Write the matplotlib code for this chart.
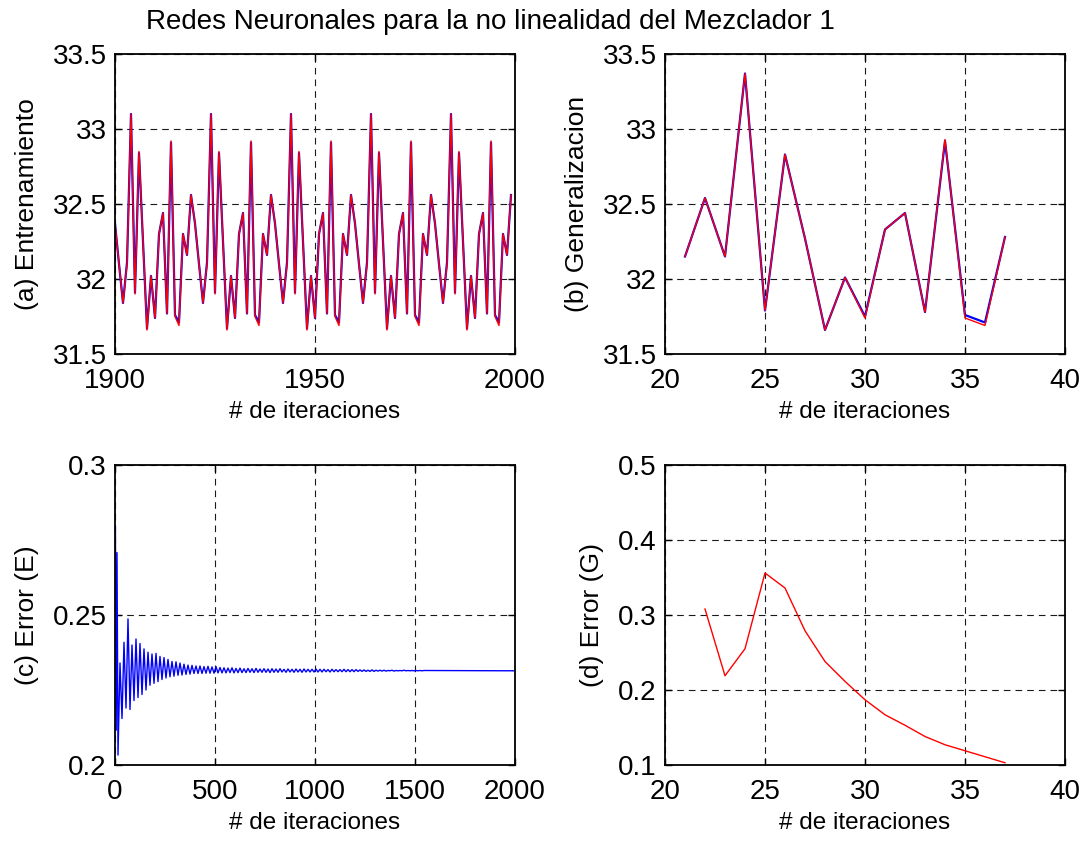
import numpy as np
import matplotlib
matplotlib.use("Agg")
import matplotlib.pyplot as plt

plt.rcParams['font.family'] = ['Liberation Sans', 'DejaVu Sans']

# --- (a) entrenamiento: iteraciones 1900..1999 ---
train_iter = np.arange(1900, 2000)
train_out = [
    32.37, 32.10, 31.84, 32.10, 33.10, 31.90, 32.85, 32.25, 31.66, 32.02,
    31.74, 32.30, 32.44, 31.77, 32.92, 31.75, 31.69, 32.30, 32.16, 32.56,
    32.37, 32.10, 31.84, 32.10, 33.10, 31.90, 32.85, 32.25, 31.66, 32.02,
    31.74, 32.30, 32.44, 31.77, 32.92, 31.75, 31.69, 32.30, 32.16, 32.56,
    32.37, 32.10, 31.84, 32.10, 33.10, 31.90, 32.85, 32.25, 31.66, 32.02,
    31.74, 32.30, 32.44, 31.77, 32.92, 31.75, 31.69, 32.30, 32.16, 32.56,
    32.37, 32.10, 31.84, 32.10, 33.10, 31.90, 32.85, 32.25, 31.66, 32.02,
    31.74, 32.30, 32.44, 31.77, 32.92, 31.75, 31.69, 32.30, 32.16, 32.56,
    32.37, 32.10, 31.84, 32.10, 33.10, 31.90, 32.85, 32.25, 31.66, 32.02,
    31.74, 32.30, 32.44, 31.77, 32.92, 31.75, 31.69, 32.30, 32.16, 32.56,
]
train_target = [
    32.37, 32.10, 31.84, 32.11, 33.10, 31.91, 32.84, 32.25, 31.67, 32.02,
    31.74, 32.30, 32.44, 31.77, 32.91, 31.76, 31.71, 32.30, 32.16, 32.56,
    32.37, 32.10, 31.84, 32.11, 33.10, 31.91, 32.84, 32.25, 31.67, 32.02,
    31.74, 32.30, 32.44, 31.77, 32.91, 31.76, 31.71, 32.30, 32.16, 32.56,
    32.37, 32.10, 31.84, 32.11, 33.10, 31.91, 32.84, 32.25, 31.67, 32.02,
    31.74, 32.30, 32.44, 31.77, 32.91, 31.76, 31.71, 32.30, 32.16, 32.56,
    32.37, 32.10, 31.84, 32.11, 33.10, 31.91, 32.84, 32.25, 31.67, 32.02,
    31.74, 32.30, 32.44, 31.77, 32.91, 31.76, 31.71, 32.30, 32.16, 32.56,
    32.37, 32.10, 31.84, 32.11, 33.10, 31.91, 32.84, 32.25, 31.67, 32.02,
    31.74, 32.30, 32.44, 31.77, 32.91, 31.76, 31.71, 32.30, 32.16, 32.56,
]

# --- (b) generalizacion ---
gen_iter = np.arange(21, 38)
gen_out = [32.15, 32.54, 32.15, 33.37, 31.79, 32.83, 32.27, 31.66, 32.01,
           31.74, 32.33, 32.44, 31.78, 32.93, 31.74, 31.69, 32.28]
gen_target = [32.15, 32.54, 32.15, 33.37, 31.79, 32.83, 32.27, 31.66, 32.01,
              31.75, 32.33, 32.44, 31.78, 32.92, 31.76, 31.71, 32.28]

# --- (c) error de entrenamiento ---
err_iter_first = [2, 6, 10, 15]
err_val_first = [0.2796, 0.2116, 0.2708, 0.2033]
err_iter_grid = np.arange(25, 1550, 10)
err_val_grid = [
    0.2340, 0.2155, 0.2409, 0.2190, 0.2487, 0.2185, 0.2400, 0.2215, 0.2420, 0.2225,
    0.2405, 0.2235, 0.2387, 0.2250, 0.2376, 0.2266, 0.2370, 0.2272, 0.2372, 0.2278,
    0.2362, 0.2285, 0.2358, 0.2290, 0.2352, 0.2294, 0.2345, 0.2296, 0.2344, 0.2299,
    0.2340, 0.2300, 0.2336, 0.2302, 0.2333, 0.2303, 0.2332, 0.2305, 0.2330, 0.2305,
    0.2330, 0.2305, 0.2328, 0.2306, 0.2329, 0.2306, 0.2327, 0.2306, 0.2328, 0.2307,
    0.2325, 0.2307, 0.2324, 0.2307, 0.2323, 0.2308, 0.2324, 0.2307, 0.2322, 0.2308,
    0.2323, 0.2308, 0.2321, 0.2308, 0.2322, 0.2309, 0.2321, 0.2308, 0.2322, 0.2309,
    0.2320, 0.2309, 0.2321, 0.2309, 0.2320, 0.2308, 0.2321, 0.2309, 0.2320, 0.2309,
    0.2321, 0.2310, 0.2319, 0.2309, 0.2320, 0.2310, 0.2319, 0.2309, 0.2320, 0.2310,
    0.2319, 0.2309, 0.2320, 0.2310, 0.2319, 0.2310, 0.2319, 0.2310, 0.2320, 0.2310,
    0.2319, 0.2310, 0.2319, 0.2311, 0.2318, 0.2310, 0.2319, 0.2311, 0.2318, 0.2311,
    0.2318, 0.2311, 0.2319, 0.2311, 0.2318, 0.2311, 0.2318, 0.2311, 0.2318, 0.2312,
    0.2317, 0.2312, 0.2317, 0.2312, 0.2316, 0.2312, 0.2317, 0.2312, 0.2316, 0.2313,
    0.2316, 0.2313, 0.2316, 0.2313, 0.2315, 0.2314, 0.2316, 0.2313, 0.2315, 0.2314,
    0.2315, 0.2314, 0.2316, 0.2314, 0.2315, 0.2314, 0.2315, 0.2314, 0.2315, 0.2314,
    0.2315, 0.2314, 0.2315,
]
err_iter_last = [2000]
err_val_last = [0.2314]

err_iter = list(err_iter_first) + list(err_iter_grid) + err_iter_last
err_val = err_val_first + err_val_grid + err_val_last

# --- (d) error de generalizacion ---
gerr_iter = np.arange(22, 38)
gerr_val = [0.308, 0.219, 0.255, 0.356, 0.336, 0.279, 0.238, 0.2115,
            0.187, 0.167, 0.153, 0.138, 0.127, 0.119, 0.111, 0.103]

W, H = 1086, 842
fig = plt.figure(figsize=(W / 100, H / 100), dpi=100)


def make_axes(left, top, right, bottom):
    return fig.add_axes([left / W, 1 - bottom / H, (right - left) / W, (bottom - top) / H])


def style(ax):
    ax.grid(True, color='0.1', linestyle=(0, (6, 4.5)), linewidth=0.8)
    ax.tick_params(direction='in', top=True, right=True, length=5, width=1,
                   labelsize=20)
    ax.tick_params(axis='x', pad=10)
    ax.tick_params(axis='y', pad=6)
    for s in ax.spines.values():
        s.set_linewidth(1.3)


FS = 17.5
ax_a = make_axes(115, 54, 515, 354)
ax_b = make_axes(665, 54, 1065, 354)
ax_c = make_axes(115, 465, 515, 765)
ax_d = make_axes(665, 465, 1065, 765)

ax_a.plot(train_iter, train_target, color='blue', lw=1.6)
ax_a.plot(train_iter, train_out, color='red', lw=1.0)
ax_a.set_xlim(1900, 2000)
ax_a.set_ylim(31.5, 33.5)
ax_a.set_xticks([1900, 1950, 2000])
ax_a.set_yticks([31.5, 32, 32.5, 33, 33.5])
ax_a.set_yticklabels(['31.5', '32', '32.5', '33', '33.5'])
ax_a.set_ylabel('(a) Entrenamiento', fontsize=19)
ax_a.set_xlabel('# de iteraciones', fontsize=FS)

ax_b.plot(gen_iter, gen_target, color='blue', lw=1.6)
ax_b.plot(gen_iter, gen_out, color='red', lw=1.0)
ax_b.set_xlim(20, 40)
ax_b.set_ylim(31.5, 33.5)
ax_b.set_xticks([20, 25, 30, 35, 40])
ax_b.set_yticks([31.5, 32, 32.5, 33, 33.5])
ax_b.set_yticklabels(['31.5', '32', '32.5', '33', '33.5'])
ax_b.set_ylabel('(b) Generalizacion', fontsize=19)
ax_b.set_xlabel('# de iteraciones', fontsize=FS)

ax_c.plot(err_iter, err_val, color='blue', lw=1.0)
ax_c.set_xlim(0, 2000)
ax_c.set_ylim(0.2, 0.3)
ax_c.set_xticks([0, 500, 1000, 1500, 2000])
ax_c.set_yticks([0.2, 0.25, 0.3])
ax_c.set_yticklabels(['0.2', '0.25', '0.3'])
ax_c.set_ylabel('(c) Error (E)', fontsize=19)
ax_c.set_xlabel('# de iteraciones', fontsize=FS)

ax_d.plot(gerr_iter, gerr_val, color='red', lw=1.0)
ax_d.set_xlim(20, 40)
ax_d.set_ylim(0.1, 0.5)
ax_d.set_xticks([20, 25, 30, 35, 40])
ax_d.set_yticks([0.1, 0.2, 0.3, 0.4, 0.5])
ax_d.set_yticklabels(['0.1', '0.2', '0.3', '0.4', '0.5'])
ax_d.set_ylabel('(d) Error (G)', fontsize=19)
ax_d.set_xlabel('# de iteraciones', fontsize=FS)

for ax in (ax_a, ax_b, ax_c, ax_d):
    style(ax)
    ax.xaxis.labelpad = 5
    ax.yaxis.labelpad = 10

fig.text(490 / W, 1 - 22 / H, 'Redes Neuronales para la no linealidad del Mezclador 1',
         ha='center', va='center', fontsize=20)

fig.savefig('out.png', dpi=100)
